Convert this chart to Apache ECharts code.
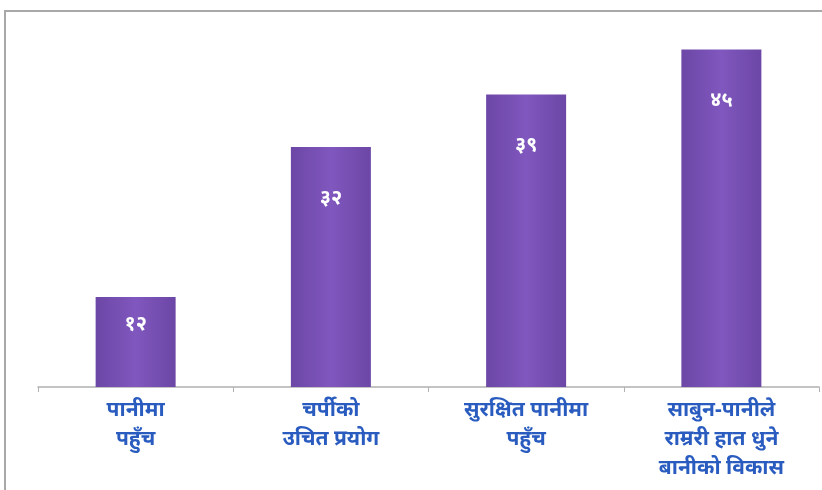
<!DOCTYPE html>
<html>
<head>
<meta charset="utf-8">
<script src="https://cdn.jsdelivr.net/npm/echarts@6/dist/echarts.min.js"></script>
<style>html,body{margin:0;padding:0;background:#fff}#c{width:822px;height:490px}</style>
</head>
<body>
<div id="c"></div>
<script>
const categories = ['पानीमा\nपहुँच', 'चर्पीको\nउचित प्रयोग', 'सुरक्षित पानीमा\nपहुँच', 'साबुन-पानीले\nराम्ररी हात धुने\nबानीको विकास'];
const values = [12, 32, 39, 45];
const valueLabels = ['१२', '३२', '३९', '४५'];

const chart = echarts.init(document.getElementById('c'));
const barColor = new echarts.graphic.LinearGradient(0, 0, 1, 0, [
  {offset: 0, color: '#6c47a6'},
  {offset: 0.5, color: '#8057be'},
  {offset: 1, color: '#6c47a6'}
]);
chart.setOption({
  animation: false,
  graphic: [{
    type: 'rect', shape: {x: 5, y: 11, width: 830, height: 500},
    style: {fill: 'none', stroke: '#a8a8a8', lineWidth: 2}, silent: true
  }],
  grid: {left: 38, right: 3, top: 12, bottom: 103},
  xAxis: {
    type: 'category', data: categories,
    axisLine: {lineStyle: {color: '#b0b0b0', width: 1.5}},
    axisTick: {show: true, length: 5, lineStyle: {color: '#b0b0b0'}},
    axisLabel: {
      color: '#2a5cc0', fontSize: 21, fontWeight: 'bold', lineHeight: 29, margin: 9,
      interval: 0, fontFamily: 'Noto Sans, sans-serif'
    }
  },
  yAxis: {type: 'value', min: 0, max: 50, show: false, splitLine: {show: false}},
  series: [{
    type: 'bar', barWidth: 80,
    data: values.map((v, i) => ({
      value: v,
      label: {distance: i === 0 ? 17 : 41}
    })),
    itemStyle: {color: barColor},
    label: {
      show: true, position: 'insideTop', color: '#ffffff', fontSize: 20, fontWeight: 'bold',
      fontFamily: 'Noto Sans, sans-serif',
      formatter: p => valueLabels[p.dataIndex]
    }
  }]
});
</script>
</body>
</html>
